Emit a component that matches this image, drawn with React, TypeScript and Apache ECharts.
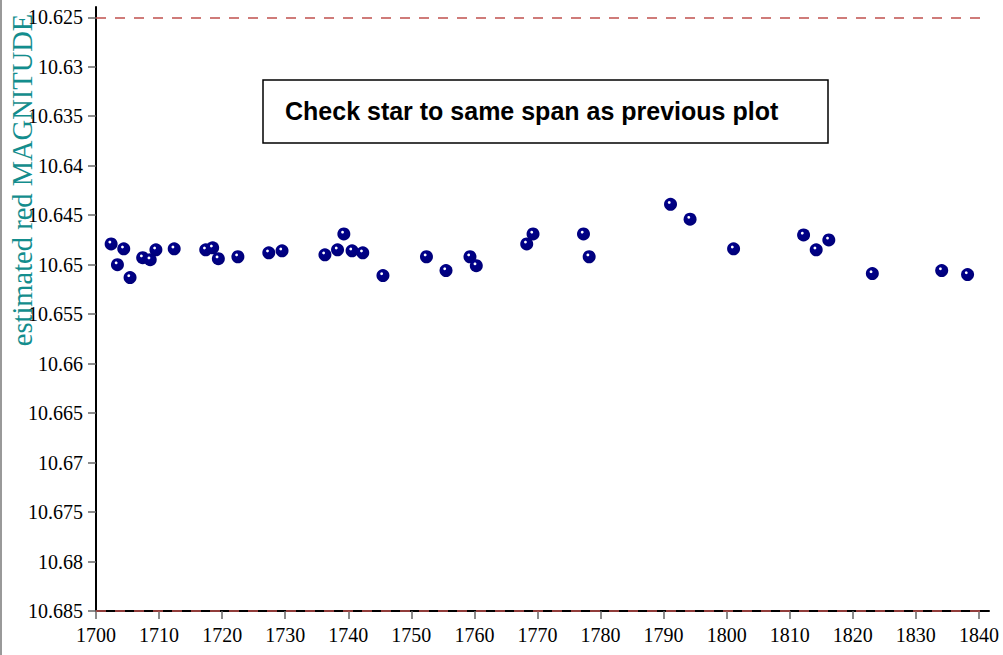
import React, { useEffect, useRef } from "react";
import * as echarts from "echarts";

const years = [
  1702.4, 1703.4, 1704.4, 1705.4, 1707.4, 1708.6, 1709.5, 1712.4, 1717.4, 1718.5,
  1719.4, 1722.5, 1727.4, 1729.5, 1736.3, 1738.3, 1739.3, 1740.6, 1742.3, 1745.5,
  1752.4, 1755.5, 1759.3, 1760.3, 1768.3, 1769.3, 1777.3, 1778.2, 1791.1, 1794.2,
  1801.1, 1812.2, 1814.2, 1816.2, 1823.1, 1834.1, 1838.2,
];
const magnitudes = [
  10.6479, 10.65, 10.6484, 10.6513, 10.6493, 10.6495, 10.6485, 10.6484, 10.6485, 10.6483,
  10.6494, 10.6492, 10.6488, 10.6486, 10.649, 10.6485, 10.6469, 10.6486, 10.6488, 10.6511,
  10.6492, 10.6506, 10.6492, 10.6501, 10.6479, 10.6469, 10.6469, 10.6492, 10.6439, 10.6454,
  10.6484, 10.647, 10.6485, 10.6475, 10.6509, 10.6506, 10.651,
];
const xTickLabels = ["1700", "1710", "1720", "1730", "1740", "1750", "1760", "1770", "1780", "1790", "1800", "1810", "1820", "1830", "1840"];
const yTickLabels = ["10.625", "10.63", "10.635", "10.64", "10.645", "10.65", "10.655", "10.66", "10.665", "10.67", "10.675", "10.68", "10.685"];
const limitLines = [10.625, 10.685];
const yAxisTitle = "estimated red MAGNITUDE";
const noteText = "Check star to same span as previous plot";

export default function App() {
  const ref = useRef<HTMLDivElement>(null);
  useEffect(() => {
    if (!ref.current) return;
    const chart = echarts.init(ref.current, null, { renderer: "svg" });
    const serif = "serif";
    const data = years.map((y, i) => [y, magnitudes[i]]);
    chart.setOption({
      animation: false,
      backgroundColor: "#ffffff",
      textStyle: { fontFamily: serif },
      grid: { left: 96, right: 14, top: 7, bottom: 44, containLabel: false },
      xAxis: {
        type: "value",
        min: 1700,
        max: 1841.6,
        axisLine: { show: true, onZero: false, lineStyle: { color: "#000", width: 2 } },
        axisTick: { show: true, length: 8, customValues: xTickLabels.map(Number), lineStyle: { color: "#666", width: 1.5 } },
        axisLabel: {
          customValues: xTickLabels.map(Number),
          formatter: (v: number) => String(Math.round(v)),
          fontFamily: serif,
          fontSize: 20,
          color: "#000",
          margin: 14,
        },
        splitLine: { show: false },
      },
      yAxis: {
        type: "value",
        inverse: true,
        min: 10.62396,
        max: 10.685,
        axisLine: { show: true, onZero: false, lineStyle: { color: "#000", width: 2 } },
        axisTick: { show: true, length: 8, customValues: yTickLabels.map(Number), lineStyle: { color: "#666", width: 1.5 } },
        axisLabel: {
          customValues: yTickLabels.map(Number),
          formatter: (v: number) => {
            const idx = yTickLabels.findIndex((s) => Math.abs(Number(s) - v) < 1e-6);
            return idx >= 0 ? yTickLabels[idx] : "";
          },
          fontFamily: serif,
          fontSize: 20,
          color: "#000",
          margin: 13,
        },
        splitLine: { show: false },
      },
      series: [
        {
          type: "scatter",
          data,
          symbol: "circle",
          symbolSize: 13,
          itemStyle: {
            opacity: 1,
            color: {
              type: "radial",
              x: 0.4,
              y: 0.36,
              r: 0.55,
              colorStops: [
                { offset: 0, color: "#ffffff" },
                { offset: 0.12, color: "#ffffff" },
                { offset: 0.26, color: "#00008b" },
                { offset: 1, color: "#00007a" },
              ],
            },
          },
          markLine: {
            silent: true,
            symbol: "none",
            precision: 4,
            label: { show: false },
            lineStyle: { color: "#c0504d", type: [10, 9], width: 1.5, opacity: 1 },
            data: limitLines.map((v) => ({ yAxis: v })),
          },
        },
      ],
      graphic: [
        {
          type: "line",
          shape: { x1: 1, y1: 0, x2: 1, y2: 655 },
          style: { stroke: "#999", lineWidth: 2 },
          silent: true,
        },
        {
          type: "text",
          x: 22,
          y: 180,
          rotation: Math.PI / 2,
          style: {
            text: yAxisTitle,
            font: "28.5px 'Liberation Serif', serif",
            fill: "#138d8d",
            align: "center",
            verticalAlign: "middle",
          },
        },
        {
          type: "rect",
          shape: { x: 263, y: 80, width: 565, height: 63 },
          style: { fill: "#fff", stroke: "#000", lineWidth: 1.5 },
        },
        {
          type: "text",
          x: 285,
          y: 111,
          style: {
            text: noteText,
            font: "bold 25px 'Liberation Sans', Arial, sans-serif",
            fill: "#000",
            align: "left",
            verticalAlign: "middle",
          },
        },
      ],
    });
    return () => chart.dispose();
  }, []);
  return (
    <div
      ref={ref}
      style={{ position: "absolute", left: 0, top: 0, width: 1003, height: 655, background: "#fff" }}
    />
  );
}
